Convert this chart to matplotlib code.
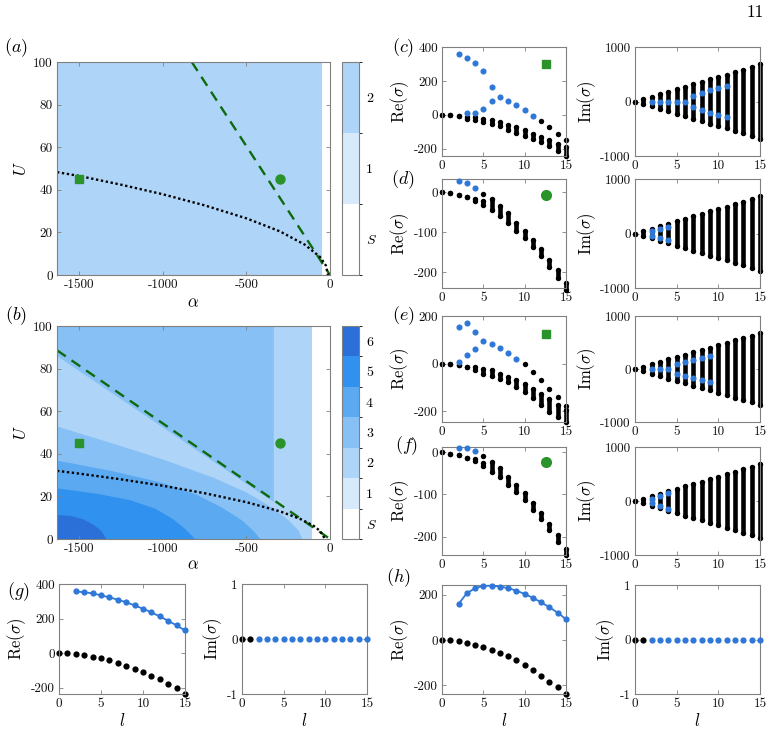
import matplotlib
matplotlib.use('Agg')
import matplotlib.pyplot as plt
from matplotlib.colors import ListedColormap, BoundaryNorm
from matplotlib.cm import ScalarMappable

plt.rcParams['font.family'] = 'cmr10'
plt.rcParams['mathtext.fontset'] = 'cm'
plt.rcParams['axes.unicode_minus'] = False

# ---------------- data ----------------
ALPHA_MIN = -1633
# panel (a)
a_fill_alpha = [-1633, -48]
a_dashed_alpha = [-827, 0]
a_dashed_U = [100, 0]
a_dotted_alpha = [-1633, -1500, -1250, -1000, -750, -500, -300, -150, -60, -25, -12]
a_dotted_U = [48.3, 46.5, 42.4, 37.9, 32.7, 26.6, 20.5, 14.2, 8.5, 4.5, 0]
square_pt = (-1500, 45)
circle_pt = (-300, 45)

# panel (b) region boundaries
b_base_alpha = [-1633, -108]
b2_alpha = [-1633, -339]
b2_U = [86, 17.5]
b3_alpha = [-1633, -1300, -1000, -700, -500, -350, -250, -190, -167]
b3_U = [53, 45, 37.5, 29, 22, 15, 9, 4, 0]
b4_alpha = [-1633, -1300, -1000, -800, -650, -530, -460, -418]
b4_U = [37, 32, 26.5, 21, 15, 9, 4, 0]
b5_alpha = [-1633, -1400, -1200, -1050, -950, -870, -807]
b5_U = [24, 21.5, 18.5, 14.5, 10, 5, 0]
b6_alpha = [-1633, -1550, -1480, -1420, -1370, -1340]
b6_U = [11.5, 11, 9.5, 7, 4, 0]
b_dashed_alpha = [-1633, 0]
b_dashed_U = [88.6, 0]
b_dotted_alpha = [-1633, -1500, -1250, -1000, -750, -500, -300, -180, -100, -60, -40, -33]
b_dotted_U = [32, 30.7, 28, 25, 21.5, 17.3, 13, 9.5, 6.3, 3.8, 1.5, 0]

cbar_a_labels = ['$S$', '1', '2']
cbar_b_labels = ['$S$', '1', '2', '3', '4', '5', '6']

l_all = list(range(16))
im_max = [0, 45, 90, 135, 180, 225, 270, 315, 360, 405, 450, 495, 540, 585, 630, 680]

# panel (c)
c_re_hi = [0, -3, -8, -14, -14, -22, -30, -40, -58, -70, -90, -110, -130, -146, -174, -190]
c_re_lo = [0, -3, -8, -24, -30, -44, -54, -66, -86, -106, -122, -144, -162, -186, -210, -240]
c_extra_l = [12, 13, 14, 15]
c_extra_re = [-35, -74, -114, -150]
c_blue1_l = [2, 3, 4, 5, 6]
c_blue1_re = [360, 338, 306, 256, 166]
c_blue2_l = [3, 4, 5, 6, 7, 8, 9, 10, 11]
c_blue2_re = [10, 10, 34, 84, 104, 82, 56, 28, -4]
c_bim0_l = [2, 3, 4, 5, 6]
c_bimpair_l = [7, 8, 9, 10, 11]
c_bimpair = [110, 165, 205, 245, 290]

# panel (d)
d_re_hi = [0, -3, -8, -13, -17, -22, -18, -35, -52, -77, -97, -120, -143, -170, -195, -227]
d_re_lo = [0, -3, -8, -13, -23, -33, -45, -60, -77, -97, -114, -137, -160, -187, -214, -245]
d_extra_l = [5]
d_extra_re = [-4]
d_blue_l = [2, 3, 4]
d_blue_re = [29, 23, 11]
d_bimpair = [40, 90, 120]

# panel (e)
e_re_hi = [0, 0, -7, -14, -14, -21, -28, -42, -56, -70, -84, -105, -126, -147, -175, -196]
e_re_lo = [0, 0, -7, -14, -25, -42, -52, -63, -77, -98, -119, -143, -175, -203, -225, -245]
e_extra_l = [10, 11, 12, 13, 14, 15]
e_extra_re = [-3, -35, -70, -105, -140, -178]
e_blue1_l = [2, 3, 4]
e_blue1_re = [155, 169, 133]
e_blue2_l = [2, 3, 4, 5, 6, 7, 8, 9]
e_blue2_re = [7, 38, 60, 94, 81, 66, 46, 21]
e_bim0_l = [2, 3, 4]
e_bimpair_l = [5, 6, 7, 8, 9]
e_bimpair = [85, 126, 165, 210, 240]

# panel (f)
f_re_hi = [0, -4, -7, -13, -17, -25, -23, -38, -58, -77, -96, -121, -145, -169, -196, -228]
f_re_lo = [0, -4, -7, -13, -22, -33, -46, -60, -77, -95, -113, -136, -159, -185, -212, -244]
f_extra_l = [5]
f_extra_re = [-9]
f_blue_l = [2, 3, 4]
f_blue_re = [10, 10, 1.5]
f_bimpair = [40, 90, 140]

# panels (g), (h)
gh_black_l = list(range(16))
gh_blue_l = list(range(2, 16))
g_black_re = [0, -1, -5, -12, -20, -30, -42, -56, -72, -90, -109, -130, -153, -178, -205, -237]
g_blue_re = [357, 352, 346, 334, 323, 309, 294, 276, 257, 236, 212, 187, 160, 131]
h_black_re = [0, 0, -4, -12, -21, -31, -43, -56, -71, -89, -111, -133, -159, -185, -210, -240]
h_blue_re = [160, 207, 230, 240, 241, 237, 230, 219, 204, 187, 167, 145, 121, 92]
im_black_l = [0, 1]
im_zero = 0

# ---------------- style ----------------
W, H = 776, 732
C = ['#ffffff', '#d7eafc', '#aed4f8', '#87c0f5', '#5ba9f1', '#3091ef', '#2b6fd8']
BLUE = '#2f78d8'
GREEN = '#2a932a'
DGREEN = '#0d6a0d'
SPINE = '#808080'
DOT = 3.3
LABEL_FS = 12
TICK_FS = 9.5

fig = plt.figure(figsize=(W / 100, H / 100), dpi=100)


def rect(l, t, r, b):
    return [l / W, 1 - b / H, (r - l) / W, (b - t) / H]


def style(ax, fs=TICK_FS):
    for s in ax.spines.values():
        s.set_color(SPINE)
        s.set_linewidth(0.8)
    ax.tick_params(direction='in', top=True, right=True, length=3, width=0.6,
                   color=SPINE, labelsize=fs, pad=3, labelcolor='#111111')


def ptext(x, y, s, fs=13):
    fig.text(x / W, 1 - y / H, s, ha='center', va='center', fontsize=fs)


def cbar(cax, labels, colors):
    n = len(labels)
    cmap = ListedColormap(colors[:n])
    norm = BoundaryNorm(list(range(n + 1)), n)
    cb = fig.colorbar(ScalarMappable(norm=norm, cmap=cmap), cax=cax,
                      ticks=[i + 0.5 for i in range(n)])
    cb.set_ticklabels(labels)
    cb.outline.set_edgecolor(SPINE)
    cb.outline.set_linewidth(0.8)
    cax.tick_params(length=0, labelsize=TICK_FS + 0.5, pad=5)


def phase_axes(ax):
    ax.set_xlim(ALPHA_MIN, 0)
    ax.set_ylim(0, 100)
    ax.set_xticks([-1500, -1000, -500, 0])
    ax.set_yticks([0, 20, 40, 60, 80, 100])
    ax.set_ylabel('$U$', fontsize=LABEL_FS, labelpad=3)
    style(ax)


# ---------- panel (a) ----------
axA = fig.add_axes(rect(57, 62, 330, 275))
axA.fill_between(a_fill_alpha, 0, 100, color=C[2], lw=0)
axA.plot(a_dashed_alpha, a_dashed_U, color=DGREEN, lw=1.7, dashes=(4.5, 3))
axA.plot(a_dotted_alpha, a_dotted_U, color='k', lw=1.7, ls=(0, (1, 1.1)))
axA.plot(*square_pt, 's', color=GREEN, ms=6)
axA.plot(*circle_pt, 'o', color=GREEN, ms=6.5)
phase_axes(axA)
axA.set_xlabel(r'$\alpha$', fontsize=LABEL_FS, labelpad=3)
cbar(fig.add_axes(rect(342, 62, 359, 275)), cbar_a_labels, C)

# ---------- panel (b) ----------
axB = fig.add_axes(rect(57, 326, 330, 539))
axB.fill_between(b_base_alpha, 0, 100, color=C[2], lw=0)
axB.fill_between(b2_alpha, b2_U, 100, color=C[3], lw=0)
axB.fill_between(b3_alpha, 0, b3_U, color=C[3], lw=0)
axB.fill_between(b4_alpha, 0, b4_U, color=C[4], lw=0)
axB.fill_between(b5_alpha, 0, b5_U, color=C[5], lw=0)
axB.fill_between(b6_alpha, 0, b6_U, color=C[6], lw=0)
axB.plot(b_dashed_alpha, b_dashed_U, color=DGREEN, lw=1.7, dashes=(4.5, 3))
axB.plot(b_dotted_alpha, b_dotted_U, color='k', lw=1.7, ls=(0, (1, 1.1)))
axB.plot(*square_pt, 's', color=GREEN, ms=6)
axB.plot(*circle_pt, 'o', color=GREEN, ms=6.5)
phase_axes(axB)
axB.set_xlabel(r'$\alpha$', fontsize=LABEL_FS, labelpad=1)
cbar(fig.add_axes(rect(342, 326, 359, 539)), cbar_b_labels, C)


# ---------- spectra ----------
def clusters(ax, lo, hi):
    for l in l_all:
        ax.plot([l, l], [lo[l], hi[l]], color='k', lw=DOT, solid_capstyle='round',
                marker='o', ms=DOT + 0.6, mew=0, clip_on=False, zorder=2)


def spec_axes(ax, ylim, yticks, ylabel):
    ax.set_xlim(0, 15)
    ax.set_ylim(*ylim)
    ax.set_xticks([0, 5, 10, 15])
    ax.set_yticks(yticks)
    ax.set_ylabel(ylabel, fontsize=LABEL_FS, labelpad=2)
    style(ax)


def blue(ax, x, y, ms=DOT + 1.1):
    ax.plot(x, y, 'o', color=BLUE, ms=ms, mew=0, ls='none', clip_on=False, zorder=3)


def black(ax, x, y, ms=DOT + 0.6):
    ax.plot(x, y, 'o', color='k', ms=ms, mew=0, ls='none', clip_on=False, zorder=2)


RE = r'$\mathrm{Re}(\sigma)$'
IM = r'$\mathrm{Im}(\sigma)$'
neg_im = [-v for v in im_max]
rows = {'c': (47, 156), 'd': (179, 288), 'e': (316, 422), 'f': (447, 555)}

# (c)
t, b = rows['c']
ax = fig.add_axes(rect(442, t, 566, b))
clusters(ax, c_re_lo, c_re_hi)
black(ax, c_extra_l, c_extra_re)
blue(ax, c_blue1_l, c_blue1_re)
blue(ax, c_blue2_l, c_blue2_re)
ax.plot(0.84, 0.84, 's', color=GREEN, ms=6, transform=ax.transAxes)
spec_axes(ax, (-242, 400), [-200, 0, 200, 400], RE)
ax = fig.add_axes(rect(635, t, 760, b))
clusters(ax, neg_im, im_max)
blue(ax, c_bim0_l, [im_zero] * len(c_bim0_l))
blue(ax, c_bimpair_l, c_bimpair)
blue(ax, c_bimpair_l, [-v for v in c_bimpair])
spec_axes(ax, (-1000, 1000), [-1000, 0, 1000], IM)

# (d)
t, b = rows['d']
ax = fig.add_axes(rect(442, t, 566, b))
clusters(ax, d_re_lo, d_re_hi)
black(ax, d_extra_l, d_extra_re)
blue(ax, d_blue_l, d_blue_re)
ax.plot(0.84, 0.85, 'o', color=GREEN, ms=7, transform=ax.transAxes)
spec_axes(ax, (-240, 33), [-200, -100, 0], RE)
ax = fig.add_axes(rect(635, t, 760, b))
clusters(ax, neg_im, im_max)
blue(ax, d_blue_l, d_bimpair)
blue(ax, d_blue_l, [-v for v in d_bimpair])
spec_axes(ax, (-1000, 1000), [-1000, 0, 1000], IM)

# (e)
t, b = rows['e']
ax = fig.add_axes(rect(442, t, 566, b))
clusters(ax, e_re_lo, e_re_hi)
black(ax, e_extra_l, e_extra_re)
blue(ax, e_blue1_l, e_blue1_re)
blue(ax, e_blue2_l, e_blue2_re)
ax.plot(0.84, 0.83, 's', color=GREEN, ms=6, transform=ax.transAxes)
spec_axes(ax, (-245, 200), [-200, 0, 200], RE)
ax = fig.add_axes(rect(635, t, 760, b))
clusters(ax, neg_im, im_max)
blue(ax, e_bim0_l, [im_zero] * len(e_bim0_l))
blue(ax, e_bimpair_l, e_bimpair)
blue(ax, e_bimpair_l, [-v for v in e_bimpair])
spec_axes(ax, (-1000, 1000), [-1000, 0, 1000], IM)

# (f)
t, b = rows['f']
ax = fig.add_axes(rect(442, t, 566, b))
clusters(ax, f_re_lo, f_re_hi)
black(ax, f_extra_l, f_extra_re)
blue(ax, f_blue_l, f_blue_re)
ax.plot(0.84, 0.86, 'o', color=GREEN, ms=7, transform=ax.transAxes)
spec_axes(ax, (-243, 12), [-200, -100, 0], RE)
ax = fig.add_axes(rect(635, t, 760, b))
clusters(ax, neg_im, im_max)
blue(ax, f_blue_l, f_bimpair)
blue(ax, f_blue_l, [-v for v in f_bimpair])
spec_axes(ax, (-1000, 1000), [-1000, 0, 1000], IM)


# (g), (h)
def bottom_pair(xre, xim, t, b, black_re, blue_re, ylim, yticks):
    ax = fig.add_axes(rect(xre[0], t, xre[1], b))
    ax.plot(gh_blue_l, blue_re, '-o', color=BLUE, lw=1.3, ms=4.5, mew=0, clip_on=False, zorder=3)
    black(ax, gh_black_l, black_re, ms=4.5)
    spec_axes(ax, ylim, yticks, RE)
    ax.set_xlabel('$l$', fontsize=LABEL_FS, labelpad=1)
    ax = fig.add_axes(rect(xim[0], t, xim[1], b))
    black(ax, im_black_l, [im_zero] * len(im_black_l), ms=4.5)
    blue(ax, gh_blue_l, [im_zero] * len(gh_blue_l), ms=4.5)
    spec_axes(ax, (-1, 1), [-1, 0, 1], IM)
    ax.set_xlabel('$l$', fontsize=LABEL_FS, labelpad=1)


bottom_pair((59, 185), (242, 367), 584, 694, g_black_re, g_blue_re, (-237, 400), [-200, 0, 200, 400])
bottom_pair((442, 566), (635, 760), 585, 694, h_black_re, h_blue_re, (-240, 244), [-200, 0, 200])

# panel labels
ptext(16, 48, '$(a)$')
ptext(16, 316, '$(b)$')
ptext(403, 48, '$(c)$')
ptext(403, 180, '$(d)$')
ptext(403, 316, '$(e)$')
ptext(407, 446, '$(f)$')
ptext(18, 592, '$(g)$')
ptext(398, 578, '$(h)$')
fig.text(755 / W, 1 - 12 / H, '11', ha='center', va='center', fontsize=12.5)

fig.savefig('out.png', dpi=100)
